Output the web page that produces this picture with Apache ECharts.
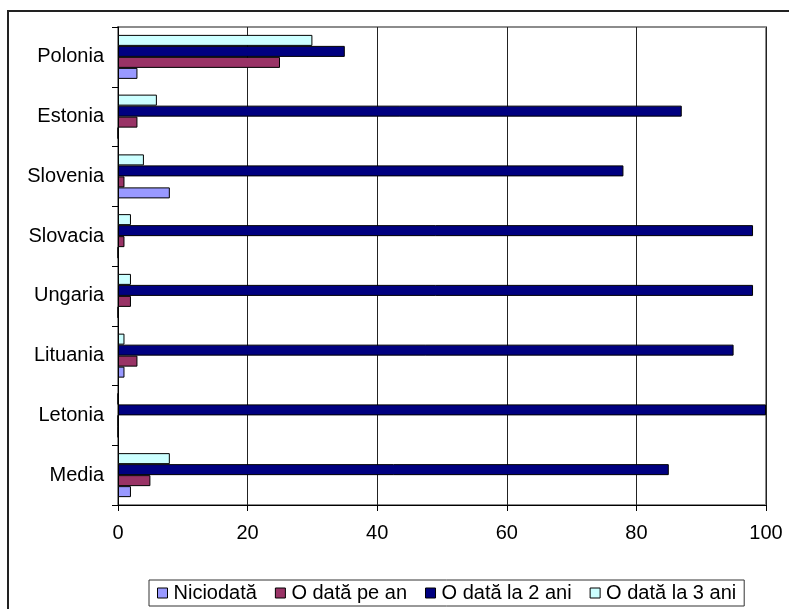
<!DOCTYPE html>
<html>
<head>
<meta charset="utf-8">
<script src="https://cdn.jsdelivr.net/npm/echarts@6/dist/echarts.min.js"></script>
<style>
  html, body { margin: 0; padding: 0; background: #fff; }
  #chart { width: 789px; height: 609px; }
</style>
</head>
<body>
<div id="chart"></div>
<script>
// categories listed bottom -> top (Excel order)
const categories = ['Media', 'Letonia', 'Lituania', 'Ungaria', 'Slovacia', 'Slovenia', 'Estonia', 'Polonia']
const niciodata = [2, 0, 1, 0, 0, 8, 0, 3]
const odataPeAn = [5, 0, 3, 2, 1, 1, 3, 25]
const odataLa2Ani = [85, 100, 95, 98, 98, 78, 87, 35]
const odataLa3Ani = [8, 0, 1, 2, 2, 4, 6, 30]
const xTicks = [0, 20, 40, 60, 80, 100]

const seriesDefs = [
  { name: 'Niciodată', color: '#9999FF', data: niciodata },
  { name: 'O dată pe an', color: '#993366', data: odataPeAn },
  { name: 'O dată la 2 ani', color: '#000080', data: odataLa2Ani },
  { name: 'O dată la 3 ani', color: '#CCFFFF', data: odataLa3Ani },
]

const font = 'Liberation Sans, Arial, sans-serif'
const chart = echarts.init(document.getElementById('chart'))

chart.setOption({
  animation: false,
  backgroundColor: '#fff',
  textStyle: { fontFamily: font },
  graphic: [{
    type: 'rect',
    shape: { x: 8, y: 11, width: 900, height: 700 },
    style: { fill: 'none', stroke: '#222', lineWidth: 2 },
    silent: true,
  }],
  grid: {
    left: 118,
    top: 27,
    right: 23,
    bottom: 104,
    show: true,
    borderColor: '#8c8c8c',
    borderWidth: 2,
  },
  legend: {
    left: 149,
    top: 580,
    icon: 'rect',
    itemWidth: 10,
    itemHeight: 10,
    itemGap: 18,
    padding: [3, 8],
    borderColor: '#333',
    borderWidth: 1,
    textStyle: { fontSize: 20, color: '#000', fontFamily: font, padding: [0, 0, 0, 1] },
    itemStyle: { borderColor: '#000', borderWidth: 1 },
    data: seriesDefs.map(s => s.name),
  },
  xAxis: {
    type: 'value',
    min: xTicks[0],
    max: xTicks[xTicks.length - 1],
    interval: 20,
    axisLine: { show: true, lineStyle: { color: '#000', width: 1 } },
    axisTick: { show: true, length: 6, lineStyle: { color: '#000' } },
    axisLabel: { fontSize: 20, color: '#000', margin: 18, fontFamily: font },
    splitLine: { show: true, lineStyle: { color: '#222', width: 1 } },
  },
  yAxis: {
    type: 'category',
    data: categories,
    axisLine: { show: true, lineStyle: { color: '#000', width: 1 } },
    axisTick: { show: true, length: 6, lineStyle: { color: '#000' } },
    axisLabel: { fontSize: 20, color: '#000', margin: 14, fontFamily: font },
    splitLine: { show: false },
  },
  // ECharts stacks the first series at the top of each group, so feed them reversed
  series: seriesDefs.slice().reverse().map(s => ({
    name: s.name,
    type: 'bar',
    barWidth: 11,
    barGap: '0%',
    itemStyle: { color: s.color, borderColor: '#000', borderWidth: 1 },
    data: s.data,
  })),
})
</script>
</body>
</html>
